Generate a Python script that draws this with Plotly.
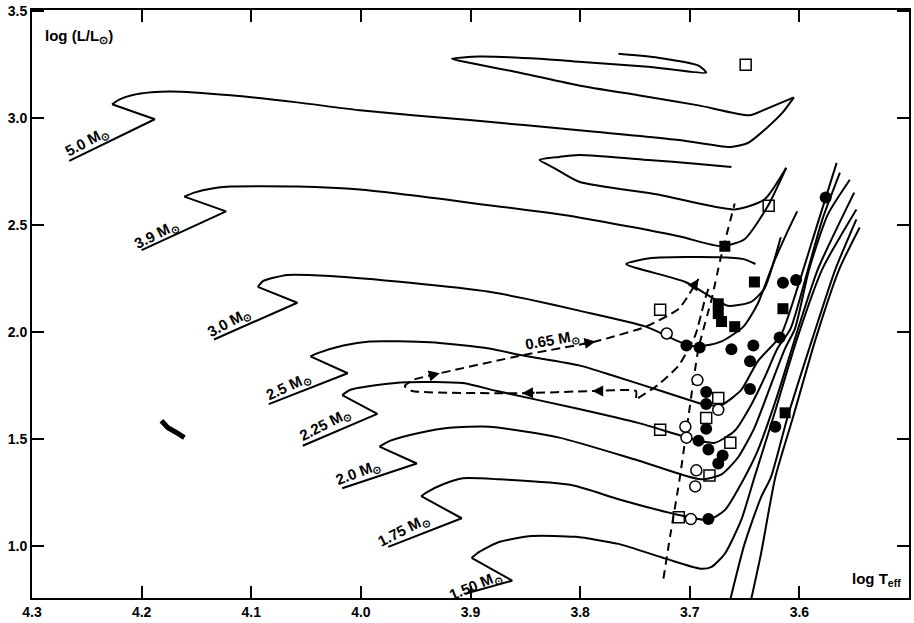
import plotly.graph_objects as go

# ---------------- data (log Teff, log L/Lsun) ----------------
# 5.0 Msun track
T50_x = [4.266, 4.188, 4.227, 4.220, 4.209, 4.191, 4.173, 4.119, 4.058, 4.001, 3.901, 3.801, 3.710, 3.663, 3.647, 3.629, 3.615, 3.605]
T50_y = [2.799, 2.994, 3.064, 3.087, 3.106, 3.120, 3.124, 3.106, 3.073, 3.036, 2.990, 2.943, 2.897, 2.864, 2.883, 2.957, 3.027, 3.096]
T50L_x = [3.605, 3.629, 3.645, 3.692, 3.747, 3.801, 3.855, 3.901, 3.917, 3.892, 3.837, 3.801, 3.738, 3.685, 3.692, 3.729, 3.765]
T50L_y = [3.096, 3.045, 3.013, 3.059, 3.106, 3.152, 3.212, 3.258, 3.277, 3.287, 3.277, 3.263, 3.240, 3.212, 3.245, 3.282, 3.300]
# 3.9 Msun track
T39_x = [4.200, 4.123, 4.161, 4.152, 4.137, 4.119, 4.058, 4.001, 3.901, 3.801, 3.710, 3.671, 3.650, 3.629, 3.612]
T39_y = [2.382, 2.563, 2.632, 2.651, 2.669, 2.679, 2.679, 2.665, 2.604, 2.535, 2.447, 2.400, 2.433, 2.586, 2.767]
T39L_x = [3.612, 3.632, 3.659, 3.729, 3.801, 3.824, 3.837, 3.819, 3.801, 3.738, 3.692, 3.662]
T39L_y = [2.767, 2.618, 2.572, 2.642, 2.702, 2.767, 2.804, 2.818, 2.827, 2.804, 2.785, 2.771]
# 3.0 Msun track
T30_x = [4.134, 4.058, 4.094, 4.089, 4.067, 4.028, 3.955, 3.883, 3.849, 3.801, 3.740, 3.701, 3.686, 3.671, 3.651, 3.638, 3.624, 3.612, 3.602]
T30_y = [1.964, 2.136, 2.210, 2.238, 2.266, 2.261, 2.229, 2.187, 2.154, 2.099, 2.024, 1.936, 1.936, 1.955, 2.024, 2.131, 2.317, 2.456, 2.563]
T30L_x = [3.617, 3.632, 3.644, 3.665, 3.704, 3.758, 3.735, 3.674, 3.651, 3.640]
T30L_y = [2.442, 2.201, 2.140, 2.122, 2.233, 2.317, 2.345, 2.349, 2.340, 2.317]
# 2.5 Msun track
T25_x = [4.084, 4.012, 4.046, 4.040, 4.016, 3.992, 3.937, 3.883, 3.853, 3.801, 3.771, 3.726, 3.692, 3.686, 3.671, 3.653, 3.638, 3.617, 3.602, 3.585, 3.566]
T25_y = [1.662, 1.806, 1.885, 1.899, 1.936, 1.955, 1.951, 1.922, 1.890, 1.843, 1.797, 1.723, 1.667, 1.658, 1.658, 1.728, 1.862, 1.983, 2.201, 2.479, 2.790]
# 2.25 Msun track
T225_x = [4.053, 3.985, 4.017, 4.010, 3.985, 3.958, 3.907, 3.876, 3.801, 3.747, 3.692, 3.677, 3.659, 3.644, 3.632, 3.620, 3.608, 3.592, 3.579, 3.563]
T225_y = [1.467, 1.616, 1.704, 1.728, 1.751, 1.764, 1.760, 1.723, 1.639, 1.574, 1.491, 1.481, 1.537, 1.658, 1.783, 1.922, 2.015, 2.294, 2.526, 2.744]
# 2.0 Msun track
T20_x = [4.017, 3.949, 3.983, 3.973, 3.946, 3.919, 3.883, 3.819, 3.747, 3.690, 3.671, 3.656, 3.641, 3.626, 3.613, 3.604, 3.591, 3.574, 3.554]
T20_y = [1.268, 1.384, 1.463, 1.491, 1.528, 1.551, 1.556, 1.505, 1.398, 1.310, 1.333, 1.412, 1.551, 1.751, 1.922, 2.015, 2.294, 2.549, 2.711]
# 1.75 Msun track
T175_x = [3.975, 3.908, 3.945, 3.940, 3.925, 3.907, 3.874, 3.807, 3.765, 3.713, 3.683, 3.668, 3.650, 3.638, 3.620, 3.602, 3.583, 3.550]
T175_y = [0.994, 1.128, 1.231, 1.249, 1.287, 1.315, 1.310, 1.282, 1.217, 1.147, 1.120, 1.166, 1.319, 1.444, 1.704, 2.001, 2.294, 2.651]
# 1.50 Msun track
T150_x = [3.904, 3.862, 3.899, 3.892, 3.874, 3.844, 3.804, 3.765, 3.722, 3.690, 3.680, 3.668, 3.653, 3.641, 3.624, 3.602, 3.579, 3.548]
T150_y = [0.776, 0.836, 0.943, 0.971, 1.017, 1.045, 1.041, 1.008, 0.939, 0.892, 0.901, 0.962, 1.120, 1.319, 1.597, 1.969, 2.294, 2.572]
# lower-mass giant branches entering from below
GA_x = [3.663, 3.650, 3.635, 3.626, 3.611, 3.588, 3.567, 3.548]
GA_y = [0.748, 1.008, 1.226, 1.319, 1.597, 1.969, 2.294, 2.526]
GB_x = [3.644, 3.635, 3.622, 3.606, 3.585, 3.5635, 3.545]
GB_y = [0.748, 0.962, 1.319, 1.597, 1.969, 2.294, 2.488]
# dashed boundary line
DL_x = [3.724, 3.718, 3.709, 3.701, 3.692, 3.680, 3.672, 3.659]
DL_y = [0.846, 1.041, 1.319, 1.611, 1.922, 2.154, 2.340, 2.600]
# 0.65 Msun track (dashed)
T065_x = [3.683, 3.686, 3.695, 3.710, 3.729, 3.747, 3.749, 3.749, 3.789, 3.853, 3.953, 3.960, 3.953, 3.928, 3.853, 3.786, 3.740, 3.710, 3.692]
T065_y = [2.201, 2.154, 1.983, 1.843, 1.751, 1.690, 1.681, 1.723, 1.723, 1.713, 1.723, 1.746, 1.774, 1.806, 1.890, 1.955, 2.024, 2.108, 2.247]
T065_ARROWS = [8, 9, 13, 15, 18]
# small blot
BLOT_x = [4.182, 4.176, 4.168, 4.161]
BLOT_y = [1.584, 1.551, 1.528, 1.505]

# stars
OSQ_x = [3.727, 3.674, 3.685, 3.727, 3.663, 3.682, 3.710, 3.649, 3.628]
OSQ_y = [2.103, 1.690, 1.597, 1.542, 1.481, 1.328, 1.133, 3.249, 2.590]
OCI_x = [3.721, 3.693, 3.674, 3.704, 3.703, 3.694, 3.695, 3.699]
OCI_y = [1.992, 1.774, 1.635, 1.556, 1.505, 1.352, 1.277, 1.124]
FCI_x = [3.703, 3.691, 3.662, 3.642, 3.645, 3.615, 3.603, 3.618, 3.645, 3.685, 3.685, 3.685, 3.692, 3.683, 3.670, 3.674, 3.622, 3.683, 3.576]
FCI_y = [1.936, 1.927, 1.918, 1.936, 1.862, 2.229, 2.242, 1.973, 1.732, 1.718, 1.662, 1.546, 1.491, 1.449, 1.421, 1.384, 1.556, 1.124, 2.628]
FSQ_x = [3.668, 3.641, 3.674, 3.674, 3.671, 3.659, 3.615, 3.613]
FSQ_y = [2.400, 2.233, 2.131, 2.085, 2.048, 2.024, 2.108, 1.621]

X_TICKS = [4.3, 4.2, 4.1, 4.0, 3.9, 3.8, 3.7, 3.6, 3.5]
X_TICK_TEXT = ["4.3", "4.2", "4.1", "4.0", "3.9", "3.8", "3.7", "3.6", "3.5"]
Y_TICKS = [1.0, 1.5, 2.0, 2.5, 3.0, 3.5]
Y_TICK_TEXT = ["1.0", "1.5", "2.0", "2.5", "3.0", "3.5"]

MASS_LABELS = ["5.0 M<sub>⊙</sub>", "3.9 M<sub>⊙</sub>", "3.0 M<sub>⊙</sub>", "2.5 M<sub>⊙</sub>",
               "2.25 M<sub>⊙</sub>", "2.0 M<sub>⊙</sub>", "1.75 M<sub>⊙</sub>", "1.50 M<sub>⊙</sub>",
               "0.65 M<sub>⊙</sub>"]
LABEL_X = [4.249, 4.186, 4.120, 4.066, 4.032, 4.002, 3.961, 3.895, 3.825]
LABEL_Y = [2.888, 2.456, 2.044, 1.746, 1.565, 1.343, 1.073, 0.815, 1.958]
LABEL_ANGLE = [-28, -27, -28, -25, -27, -21, -27, -23, -10]

# ---------------- figure ----------------
fig = go.Figure()
BLACK = "black"
HOOK = 2  # index of the sharp hook corner: straight segments up to it, smooth curve after

main_tracks = [(T50_x, T50_y), (T39_x, T39_y), (T30_x, T30_y), (T25_x, T25_y), (T225_x, T225_y),
               (T20_x, T20_y), (T175_x, T175_y), (T150_x, T150_y)]
for tx, ty in main_tracks:
    fig.add_trace(go.Scatter(x=tx[:HOOK + 1], y=ty[:HOOK + 1], mode="lines",
                             line=dict(color=BLACK, width=2), hoverinfo="skip"))
    fig.add_trace(go.Scatter(x=tx[HOOK:], y=ty[HOOK:], mode="lines",
                             line=dict(color=BLACK, width=2, shape="spline", smoothing=0.6),
                             hoverinfo="skip"))

other_tracks = [(T50L_x, T50L_y), (T39L_x, T39L_y), (T30L_x, T30L_y), (GA_x, GA_y), (GB_x, GB_y)]
for tx, ty in other_tracks:
    fig.add_trace(go.Scatter(x=tx, y=ty, mode="lines",
                             line=dict(color=BLACK, width=2, shape="spline", smoothing=0.6),
                             hoverinfo="skip"))

fig.add_trace(go.Scatter(x=DL_x, y=DL_y, mode="lines",
                         line=dict(color=BLACK, width=2, dash="8px,6px", shape="spline", smoothing=0.6)))
fig.add_trace(go.Scatter(x=T065_x, y=T065_y, mode="lines",
                         line=dict(color=BLACK, width=2, dash="9px,5px", shape="spline", smoothing=0.5)))
fig.add_trace(go.Scatter(x=BLOT_x, y=BLOT_y, mode="lines", line=dict(color=BLACK, width=5)))

fig.add_trace(go.Scatter(x=OSQ_x, y=OSQ_y, mode="markers",
                         marker=dict(symbol="square-open", size=11, color=BLACK, line=dict(width=1.5))))
fig.add_trace(go.Scatter(x=OCI_x, y=OCI_y, mode="markers",
                         marker=dict(symbol="circle", size=11, color="white", line=dict(width=1.5, color=BLACK))))
fig.add_trace(go.Scatter(x=FCI_x, y=FCI_y, mode="markers",
                         marker=dict(symbol="circle", size=12, color=BLACK)))
fig.add_trace(go.Scatter(x=FSQ_x, y=FSQ_y, mode="markers",
                         marker=dict(symbol="square", size=11, color=BLACK)))

annotations = []
for i in T065_ARROWS:
    x0, y0 = T065_x[i - 1], T065_y[i - 1]
    x1, y1 = T065_x[i], T065_y[i]
    annotations.append(dict(x=x1, y=y1, ax=x1 - 0.2 * (x1 - x0), ay=y1 - 0.2 * (y1 - y0),
                            xref="x", yref="y", axref="x", ayref="y", showarrow=True,
                            arrowhead=2, arrowsize=1.1, arrowwidth=2, arrowcolor=BLACK, text=""))

for txt, lx, ly, ang in zip(MASS_LABELS, LABEL_X, LABEL_Y, LABEL_ANGLE):
    annotations.append(dict(x=lx, y=ly, xref="x", yref="y", text="<b>" + txt + "</b>",
                            showarrow=False, textangle=ang,
                            font=dict(family="Liberation Sans", size=15, color=BLACK)))

annotations.append(dict(x=0.012, y=0.975, xref="paper", yref="paper", xanchor="left", yanchor="top",
                        text="<b>log (L/L<sub>⊙</sub>)</b>", showarrow=False,
                        font=dict(family="Liberation Sans", size=15, color=BLACK)))
annotations.append(dict(x=0.993, y=0.012, xref="paper", yref="paper", xanchor="right", yanchor="bottom",
                        text="<b>log T<sub>eff</sub></b>", showarrow=False,
                        font=dict(family="Liberation Sans", size=15, color=BLACK)))

axis_common = dict(ticks="inside", ticklen=12, tickwidth=2, tickcolor=BLACK,
                   showline=True, linewidth=2, linecolor=BLACK, mirror="ticks",
                   showgrid=False, zeroline=False,
                   tickfont=dict(family="Liberation Sans", size=14, color=BLACK, weight="bold"))

fig.update_layout(
    width=914, height=623,
    margin=dict(l=32, r=3, t=9, b=20),
    plot_bgcolor="white", paper_bgcolor="white",
    showlegend=False,
    annotations=annotations,
    xaxis=dict(range=[4.3, 3.5], tickvals=X_TICKS, ticktext=X_TICK_TEXT, **axis_common),
    yaxis=dict(range=[0.755, 3.505], tickvals=Y_TICKS, ticktext=Y_TICK_TEXT, **axis_common),
)

fig.write_html("out.html")
